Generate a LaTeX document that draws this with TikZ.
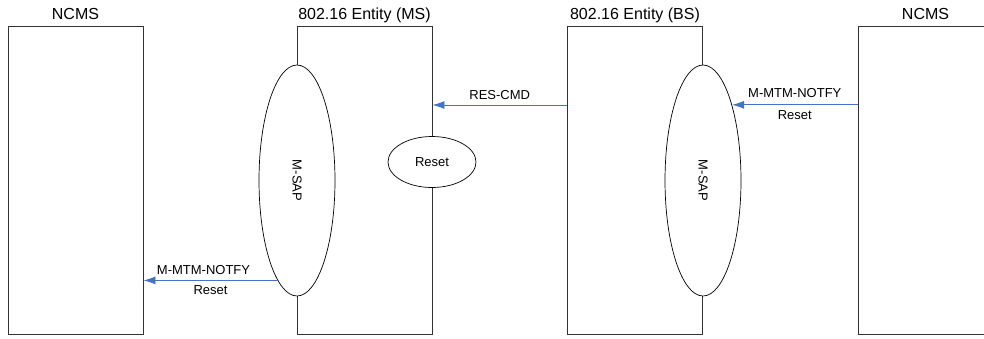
\documentclass[tikz,border=0pt]{standalone}
\usepackage{fontspec}
\setmainfont{Liberation Sans}
\usetikzlibrary{shapes.geometric,arrows.meta,positioning}
\definecolor{msgBlue}{RGB}{68,114,196}
\definecolor{boxGray}{RGB}{50,50,50}

\begin{document}
\begin{tikzpicture}[x=1pt, y=-1pt,
  entity/.style={draw=boxGray, line width=0.9pt, minimum width=135pt, minimum height=308pt, inner sep=0pt},
  title/.style={font=\fontsize{16}{18}\selectfont, inner sep=0pt, text depth=0pt},
  sap/.style={ellipse, draw, fill=white, line width=0.7pt, inner sep=0pt,
    minimum width=76pt, minimum height=231pt, font=\fontsize{13}{15}\selectfont},
  msg/.style={draw=msgBlue, line width=0.9pt, -{Latex[length=12pt,width=8pt]}},
  lbl/.style={font=\fontsize{13}{15}\selectfont, inner sep=0pt, text depth=0pt}]

  \useasboundingbox (0,0) rectangle (984,338);

  % Entities and their titles
  \foreach \n/\x/\t in {ncmsL/75.5/NCMS, ms/364.5/802.16 Entity (MS), bs/635/802.16 Entity (BS), ncmsR/925.5/NCMS} {
    \node[entity] (\n) at (\x,180) {};
    \node[title, above=6pt of \n] (\n-title) {\t};
  }

  % Service access points
  \node[sap] (msapMS) at (297,180.5) {\rotatebox{-90}{M-SAP}};
  \node[sap] (msapBS) at (703,180.5) {\rotatebox{-90}{M-SAP}};
  \node[sap, minimum width=88pt, minimum height=51pt] (reset) at (432,162) {Reset};

  % Messages
  \coordinate (upper) at (0,105);
  \draw[msg] (bs.west |- upper) -- node[lbl, above=5pt] {RES-CMD} (ms.east |- upper);
  \draw[msg] (ncmsR.west |- msapBS.69) -- node[lbl, above=7pt] {M-MTM-NOTFY}
    node[lbl, below=5pt] {Reset} (msapBS.69);
  \draw[msg] (msapMS.-101.4) -- node[lbl, above=5pt, xshift=-7pt] {M-MTM-NOTFY}
    node[lbl, below=5pt] {Reset} (ncmsL.east |- msapMS.-101.4);

\end{tikzpicture}
\end{document}
